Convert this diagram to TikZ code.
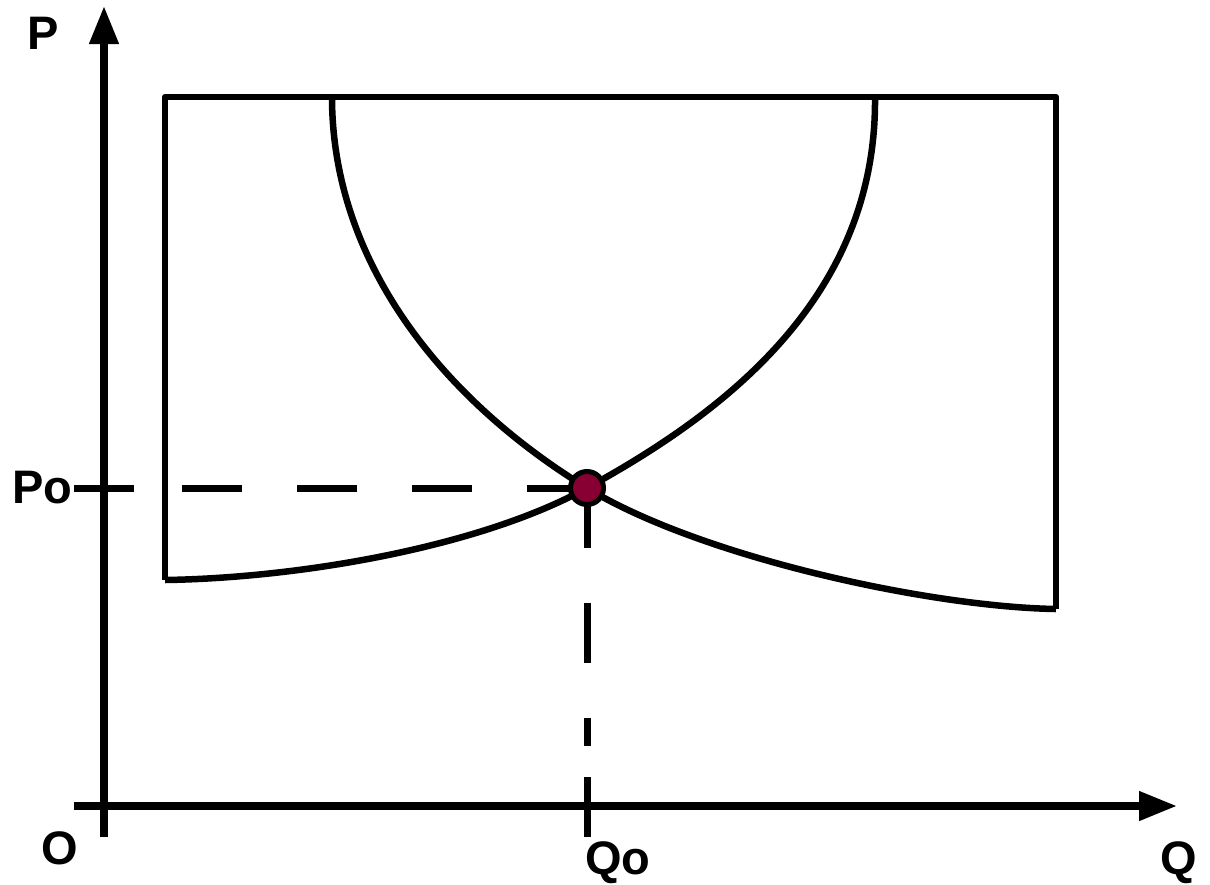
\documentclass[tikz,border=0pt]{standalone}
\usepackage{fontspec}
\setmainfont{Liberation Sans}
\usepackage{xcolor}
\usepackage{tikz}
\usetikzlibrary{
  arrows.meta,
  positioning,
  calc
}
\definecolor{ink}{HTML}{000000}
\definecolor{eqred}{HTML}{880033}
\tikzset{
  axisline/.style={
    line width=7.5pt, color=ink,
    -{Triangle[length=38pt,width=28pt]}
  },
  tickline/.style={
    line width=7pt, color=ink
  },
  frameline/.style={
    line width=6.5pt, color=ink, line join=round
  },
  guide/.style={
    line width=7pt, color=ink, dash pattern=on 60pt off 55pt
  },
  eqpoint/.style={
    circle, fill=eqred, draw=ink, line width=5pt,
    minimum size=33pt, inner sep=0pt
  },
  axlabel/.style={
    font=\fontsize{47}{50}\selectfont\bfseries, inner sep=0pt,
    anchor=base west
  },
}

\begin{document}
\begin{tikzpicture}[x=1pt,y=-1pt]
  \useasboundingbox (0,0) rectangle (1210,884);

  %% Axes
  \draw[axisline] (104,837) -- (104,6);
  \draw[axisline] (74,806) -- (1177,806);

  %% Frame
  \draw[frameline] (165,580) -- (165,97) -- (1056,97) -- (1056,609);

  \coordinate (E) at (587,488);

  %% Falling curve
  \draw[frameline] (332,97) .. controls (332,260) and (440,398) .. (E)
    .. controls (700,557) and (930,607) .. (1056,609);

  %% Rising curve
  \draw[frameline] (875,97) .. controls (877,300) and (720,415) .. (E)
    .. controls (480,547) and (300,578) .. (165,580);

  %% Guides
  \coordinate (ph) at (180,488);
  \coordinate (qv) at (587,746);
  \draw[guide] (E) -- (ph);
  \draw[guide] (E) -- (qv);
  \draw[tickline] (74,488) -- (134,488);
  \draw[tickline] (587,777) -- (587,837);
  \node[eqpoint] (eq) at (E) {};

  %% Labels
  \node[axlabel] (lP) at (27,49) {P};
  \node[axlabel] (lP0) at (12,503) {Po};
  \node[axlabel] (lO) at (41,864) {O};
  \node[axlabel] (lQ0) at (585,874) {Qo};
  \node[axlabel] (lQ) at (1160,874) {Q};
\end{tikzpicture}
\end{document}
